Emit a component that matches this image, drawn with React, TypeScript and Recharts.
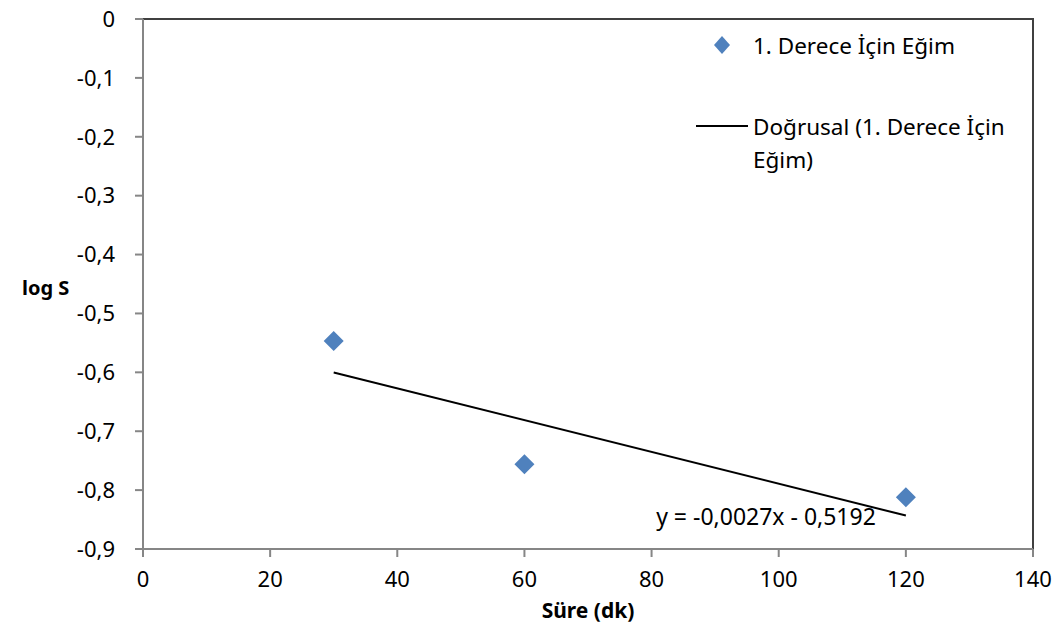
import { ComposedChart, Scatter, XAxis, YAxis, ReferenceArea, ReferenceDot } from "recharts";

const sureDk = [30, 60, 120];
const logS = [-0.547, -0.756, -0.812];
const trendX = [30, 120];
const trendY = [-0.6002, -0.8432];
const xTicks = [0, 20, 40, 60, 80, 100, 120, 140];
const yTicks = [0, -0.1, -0.2, -0.3, -0.4, -0.5, -0.6, -0.7, -0.8, -0.9];
const seriesName = "1. Derece İçin Eğim";
const trendName = ["Doğrusal (1. Derece İçin", "Eğim)"];
const equation = "y = -0,0027x - 0,5192";

const points = sureDk.map((x, i) => ({ x, y: logS[i] }));
const trend = trendX.map((x, i) => ({ x, y: trendY[i] }));

const FONT = "'Noto Sans', sans-serif";
const BLUE = "#4F81BD";

const Diamond = (props: any) => {
  const { cx, cy } = props;
  const r = 10;
  return <polygon points={`${cx},${cy - r} ${cx + r},${cy} ${cx},${cy + r} ${cx - r},${cy}`} fill={BLUE} />;
};

const Nothing = () => <g />;

const fmt = (v: number) => String(v).replace(".", ",");

// legend drawn as a plain overlay so it doesn't eat into the plot area
const LegendBox = () => (
  <div
    style={{
      position: "absolute",
      left: 695,
      top: 29,
      fontFamily: FONT,
      fontSize: 22.5,
      color: "#000",
      lineHeight: "33px",
    }}
  >
    <div style={{ display: "flex", alignItems: "center" }}>
      <svg width={58} height={33}>
        <polygon points="27,7 35,16 27,25 19,16" fill={BLUE} />
      </svg>
      <span>{seriesName}</span>
    </div>
    <div style={{ display: "flex", alignItems: "flex-start", marginTop: 48 }}>
      <svg width={58} height={33}>
        <line x1={1} y1={16} x2={53} y2={16} stroke="#000" strokeWidth={2} />
      </svg>
      <div>
        <div>{trendName[0]}</div>
        <div>{trendName[1]}</div>
      </div>
    </div>
  </div>
);

export default function App() {
  return (
    <div style={{ position: "absolute", left: 0, top: 0, width: 1063, height: 624, background: "#fff" }}>
      <ComposedChart
        width={1063}
        height={624}
        margin={{ top: 19, right: 30, bottom: 0, left: 0 }}
        style={{ fontFamily: FONT }}
      >
        <ReferenceArea x1={0} x2={140} y1={-0.9} y2={0} fill="none" stroke="#404040" strokeWidth={2} />
        <XAxis
          type="number"
          dataKey="x"
          domain={[0, 140]}
          ticks={xTicks}
          height={75}
          stroke="#868686"
          strokeWidth={2}
          tickSize={8}
          tickMargin={14}
          tick={{ fill: "#000", fontSize: 22 }}
          label={{ value: "Süre (dk)", position: "insideBottom", offset: 6, fill: "#000", fontSize: 21, fontWeight: "bold" }}
        />
        <YAxis
          type="number"
          dataKey="y"
          domain={[-0.9, 0]}
          ticks={yTicks}
          width={143}
          stroke="#868686"
          strokeWidth={2}
          tickSize={8}
          tickMargin={20}
          tickFormatter={fmt}
          tick={{ fill: "#000", fontSize: 22 }}
          label={{ value: "log S", angle: 0, position: "insideLeft", offset: 22, fill: "#000", fontSize: 20, fontWeight: "bold", dy: 4 }}
        />
        <Scatter name={seriesName} data={points} shape={Diamond} isAnimationActive={false} />
        <Scatter
          name={trendName.join(" ")}
          data={trend}
          line={{ stroke: "#000", strokeWidth: 2 }}
          shape={Nothing}
          isAnimationActive={false}
        />
        <ReferenceDot
          x={98}
          y={-0.846}
          r={0}
          stroke="none"
          label={{ value: equation, position: "center", fill: "#000", fontSize: 23 }}
        />
      </ComposedChart>
      <LegendBox />
    </div>
  );
}
